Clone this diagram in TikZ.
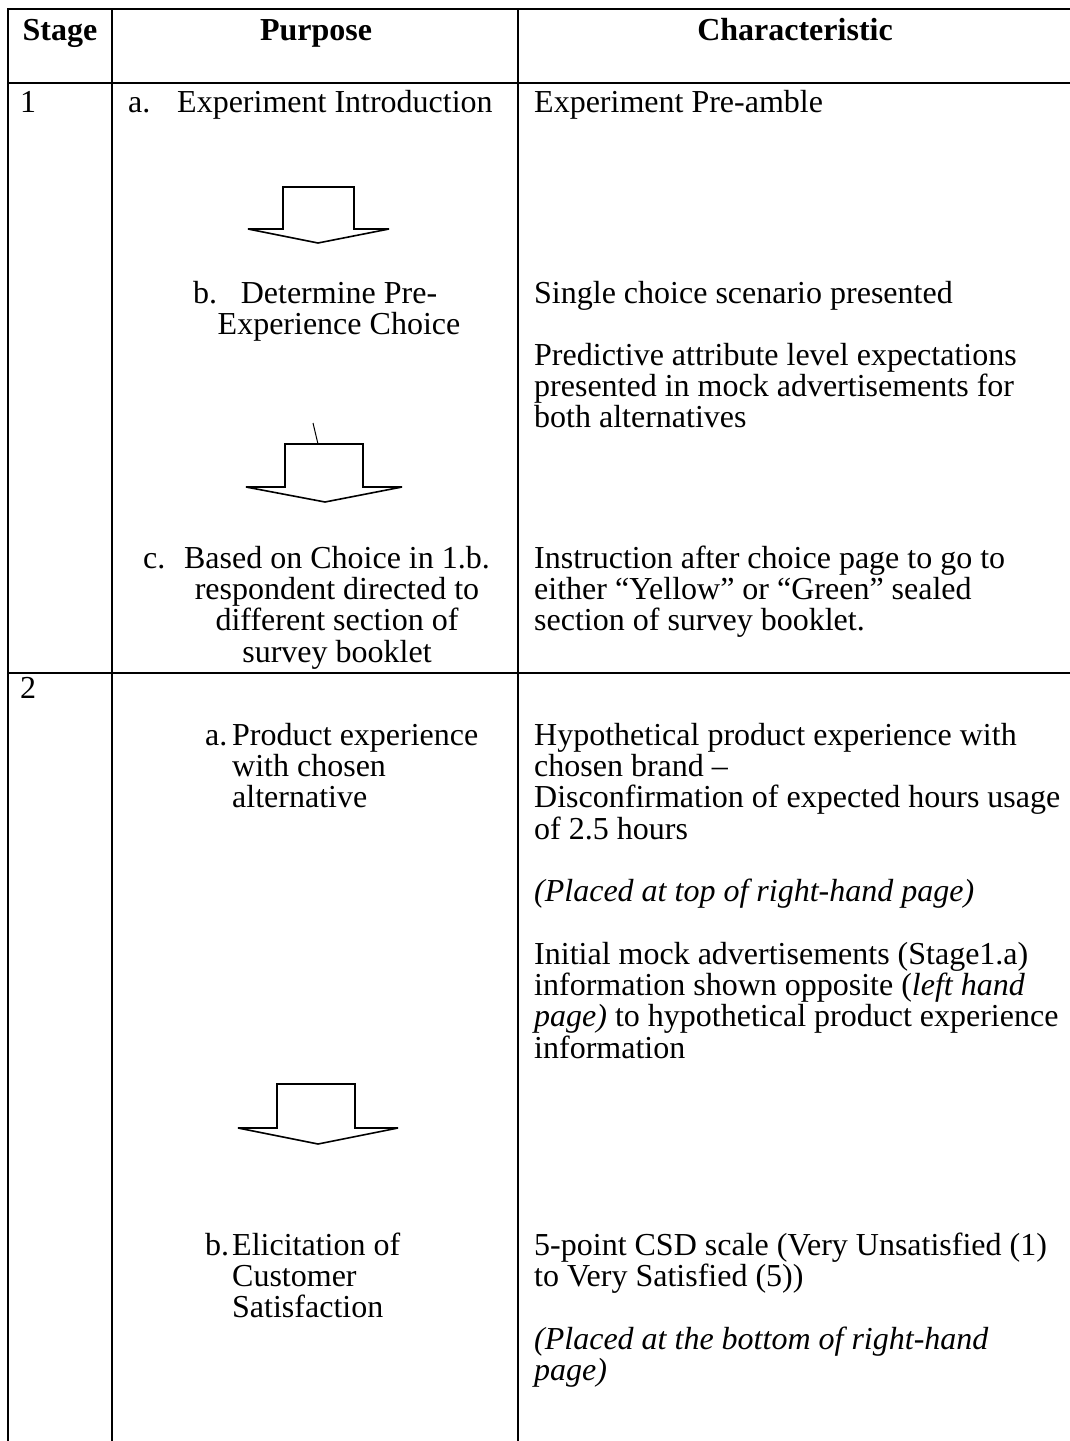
\documentclass[tikz,border=0pt]{standalone}
\usepackage{fontspec}
\setmainfont{Liberation Serif}

\begin{document}
\begin{tikzpicture}[x=1pt,y=-1pt,
    rule/.style={line width=2pt},
    blockarrow/.style={line width=1.6pt, line join=miter},
    % multi-line nodes sit on the baseline of their last line
    txt/.style={anchor=base west, inner sep=0pt, align=left, font=\fontsize{32}{31.4}\selectfont},
    ctxt/.style={anchor=base, inner sep=0pt, align=center, font=\fontsize{32}{31.4}\selectfont},
    head/.style={anchor=base, inner sep=0pt, font=\fontsize{32}{31.4}\selectfont\bfseries}]
  \useasboundingbox (0,0) rectangle (1070,1441);

  % table rules
  \draw[rule] (8,1441) -- (8,9) -- (1070,9);
  \draw[rule] (112,9) -- (112,1441);
  \draw[rule] (518,9) -- (518,1441);
  \draw[rule] (8,83) -- (1070,83);
  \draw[rule] (8,673) -- (1070,673);

  % header
  \node[head] (hstage) at (60,40) {Stage};
  \node[head] (hpurp) at (316,40) {Purpose};
  \node[head] (hchar) at (795,40) {Characteristic};

  % stage 1
  \node[txt] (s1) at (20,112) {1};
  \node[txt] (p1a) at (128,112) {a.};
  \node[txt] (p1atxt) at (177,112) {Experiment Introduction};
  \node[txt] (c1a) at (534,112) {Experiment Pre-amble};

  \draw[blockarrow] (283,187) -- (283,229) -- (248,229) -- (318,243) -- (389,229) -- (354,229) -- (354,187) -- cycle;

  \node[txt] (p1b) at (193,303) {b.};
  \node[ctxt] (p1btxt) at (339,{303+31.4}) {Determine Pre-\\Experience Choice};
  \node[txt] (c1b) at (534,303) {Single choice scenario presented};
  \node[txt] (c1b2) at (534,{365+2*31.4}) {Predictive attribute level expectations\\presented in mock advertisements for\\both alternatives};

  \draw[line width=1pt] (313,423) -- (318,444);
  \draw[blockarrow] (285,444) -- (285,487) -- (246,487) -- (325,502) -- (402,487) -- (363,487) -- (363,444) -- cycle;

  \node[txt] (p1c) at (143,568) {c.};
  \node[ctxt] (p1ctxt) at (337,{568+3*31.4}) {Based on Choice in 1.b.\\respondent directed to\\different section of\\survey booklet};
  \node[txt] (c1c) at (534,{568+2*31.4}) {Instruction after choice page to go to\\either “Yellow” or “Green” sealed\\section of survey booklet.};

  % stage 2
  \node[txt] (s2) at (20,698) {2};
  \node[txt] (p2a) at (205,745) {a.};
  \node[txt] (p2atxt) at (232,{745+2*31.4}) {Product experience\\with chosen\\alternative};
  \node[txt] (c2a) at (534,{745+3*31.4}) {Hypothetical product experience with\\chosen brand –\\Disconfirmation of expected hours usage\\of 2.5 hours};
  \node[txt] (c2a2) at (534,901) {\textit{(Placed at top of right-hand page)}};
  \node[txt] (c2a3) at (534,{964+3*31.4}) {Initial mock advertisements (Stage1.a)\\information shown opposite (\textit{left hand}\\\textit{page)} to hypothetical product experience\\information};

  \draw[blockarrow] (277,1084) -- (277,1128) -- (238,1128) -- (318,1144) -- (398,1128) -- (355,1128) -- (355,1084) -- cycle;

  \node[txt] (p2b) at (205,1255) {b.};
  \node[txt] (p2btxt) at (232,{1255+2*31.4}) {Elicitation of\\Customer\\Satisfaction};
  \node[txt] (c2b) at (534,{1255+31.4}) {5-point CSD scale (Very Unsatisfied (1)\\to Very Satisfied (5))};
  \node[txt] (c2b2) at (534,{1349+31.4}) {\textit{(Placed at the bottom of right-hand}\\\textit{page)}};
\end{tikzpicture}
\end{document}
